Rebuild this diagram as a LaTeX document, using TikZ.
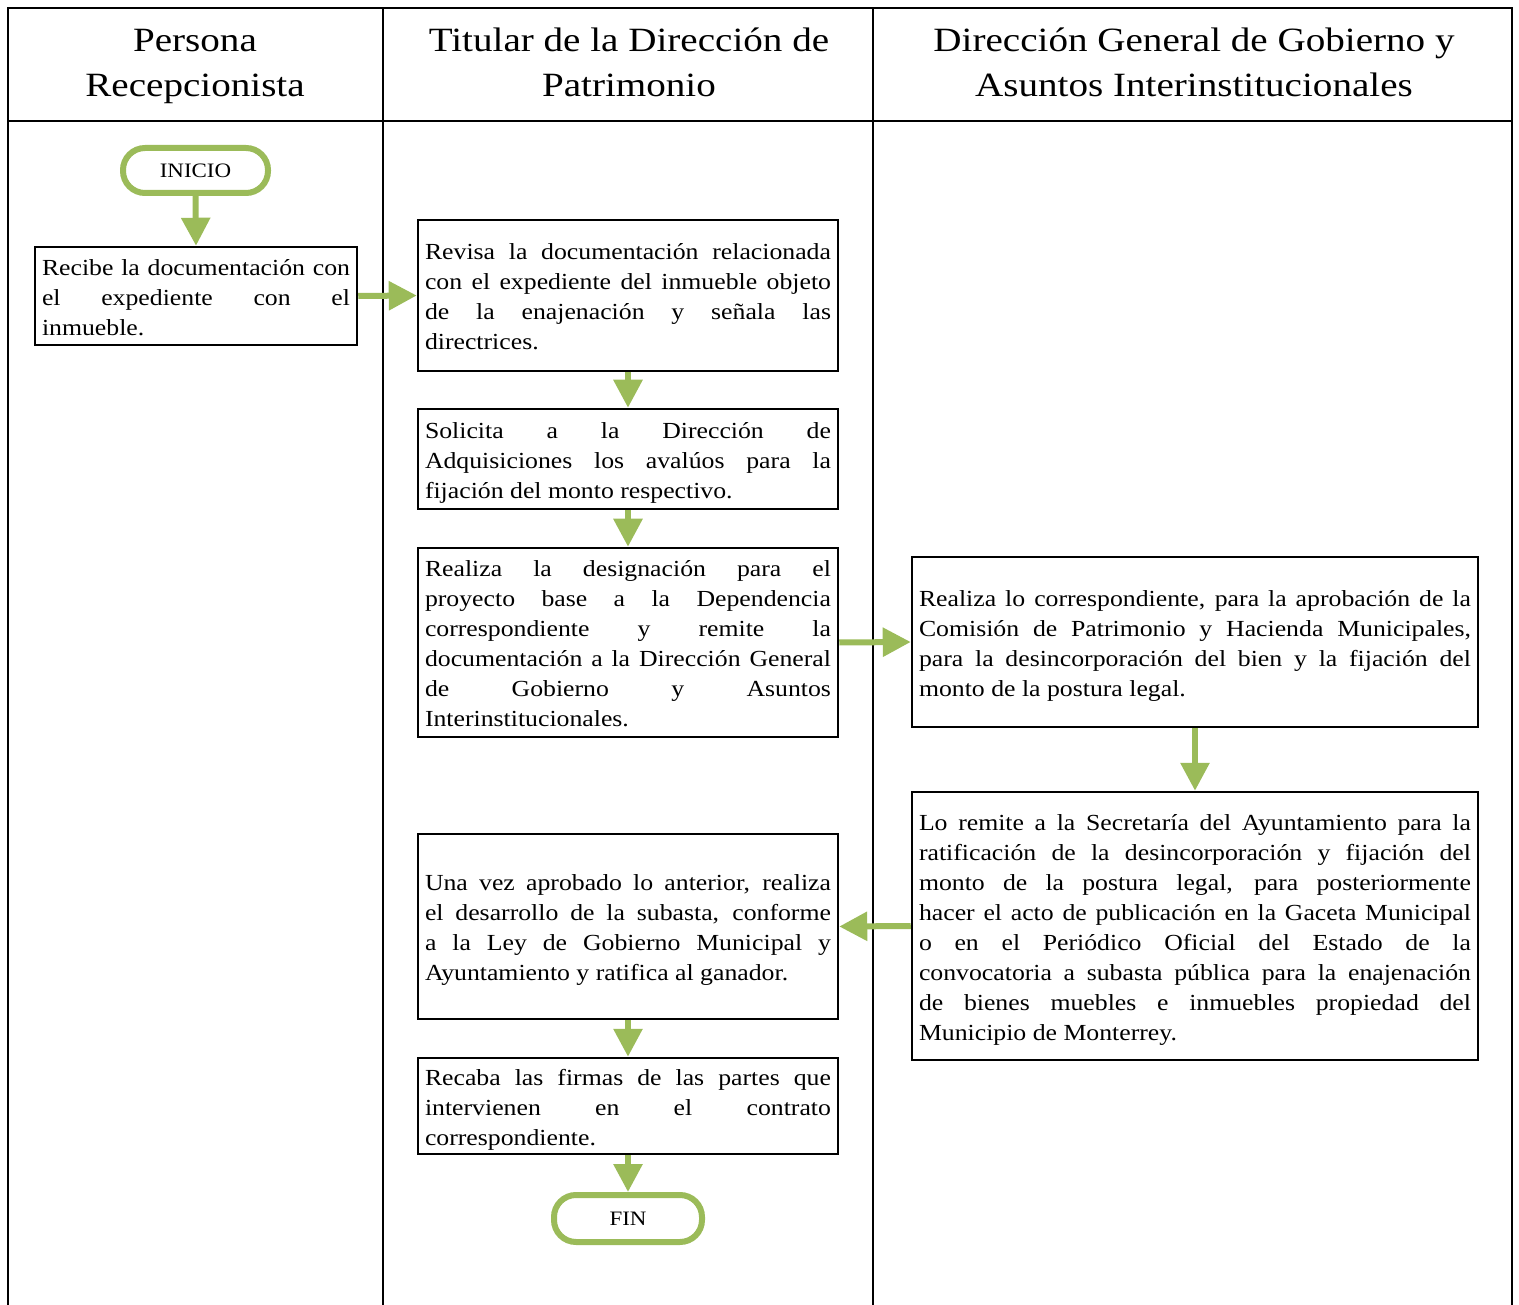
\documentclass[tikz,border=0pt]{standalone}
\usepackage{fontspec}
\setmainfont[FakeStretch=1.12]{Liberation Serif}
\newfontfamily\hfont[FakeStretch=1.15]{Liberation Serif}
\usetikzlibrary{arrows.meta}
\definecolor{olive}{HTML}{9BBB59}
\newcommand{\jl}[2][406pt]{\makebox[#1][s]{#2}\\}
\newcommand{\ft}{\rule{0pt}{26.6pt}}
\newcommand{\lastl}[1]{#1\rule[-8pt]{0pt}{8pt}}
\tikzset{
  stepbox/.style={draw=black, line width=2.5pt, inner xsep=7pt, inner ysep=0pt,
    font=\fontsize{23}{30}\selectfont, align=justify},
  term/.style={draw=olive, line width=6pt, rounded corners=22pt, inner sep=0pt,
    font=\fontsize{20.5}{24}\selectfont},
  flow/.style={draw=olive, line width=6pt, -{Triangle[length=28pt,width=28pt]}, olive},
  head/.style={align=center, font=\hfont\fontsize{34}{45}\selectfont, inner sep=0pt, anchor=north},
  frame/.style={line width=2pt, draw=black}
}
\begin{document}
\begin{tikzpicture}[x=1pt,y=-1pt]
\useasboundingbox (0,0) rectangle (1519,1305);
% lanes
\draw[frame] (8,1310) -- (8,8) -- (1512,8) -- (1512,1310);
\draw[frame] (8,121) -- (1512,121);
\draw[frame] (383,8) -- (383,1310);
\draw[frame] (873,8) -- (873,1310);
\node[head] (h1) at (195,15.5) {\rule{0pt}{36pt}Persona\\Recepcionista};
\node[head] (h2) at (629,15.5) {\rule{0pt}{36pt}Titular de la Dirección de\\Patrimonio};
\node[head] (h3) at (1194,15.5) {\rule{0pt}{36pt}Dirección General de Gobierno y\\Asuntos Interinstitucionales};
% terminals
\node[term, minimum width=145pt, minimum height=45pt] (ini) at (195.5,170.5) {INICIO};
\node[term, minimum width=148pt, minimum height=47pt] (fin) at (628,1218.5) {FIN};
% boxes
\node[stepbox, minimum width=322pt, minimum height=98pt, text width=308pt] (b1) at (196,296)
 {\ft\jl[308pt]{Recibe la documentación con}\jl[308pt]{el expediente con el}\lastl{inmueble.}};
\node[stepbox, minimum width=420pt, minimum height=151pt, text width=406pt] (b2) at (628,295.5)
 {\ft\jl{Revisa la documentación relacionada}\jl{con el expediente del inmueble objeto}\jl{de la enajenación y señala las}\lastl{directrices.}};
\node[stepbox, minimum width=420pt, minimum height=100pt, text width=406pt] (b3) at (628,459)
 {\ft\jl{Solicita a la Dirección de}\jl{Adquisiciones los avalúos para la}\lastl{fijación del monto respectivo.}};
\node[stepbox, minimum width=420pt, minimum height=189pt, text width=406pt] (b4) at (628,642.5)
 {\ft\jl{Realiza la designación para el}\jl{proyecto base a la Dependencia}\jl{correspondiente y remite la}\jl{documentación a la Dirección General}\jl{de Gobierno y Asuntos}\lastl{Interinstitucionales.}};
\node[stepbox, minimum width=566pt, minimum height=170pt, text width=552pt] (b5) at (1195,642)
 {\ft\jl[552pt]{Realiza lo correspondiente, para la aprobación de la}\jl[552pt]{Comisión de Patrimonio y Hacienda Municipales,}\jl[552pt]{para la desincorporación del bien y la fijación del}\lastl{monto de la postura legal.}};
\node[stepbox, minimum width=566pt, minimum height=268pt, text width=552pt] (b6) at (1195,926)
 {\ft\jl[552pt]{Lo remite a la Secretaría del Ayuntamiento para la}\jl[552pt]{ratificación de la desincorporación y fijación del}\jl[552pt]{monto de la postura legal, para posteriormente}\jl[552pt]{hacer el acto de publicación en la Gaceta Municipal}\jl[552pt]{o en el Periódico Oficial del Estado de la}\jl[552pt]{convocatoria a subasta pública para la enajenación}\jl[552pt]{de bienes muebles e inmuebles propiedad del}\lastl{Municipio de Monterrey.}};
\node[stepbox, minimum width=420pt, minimum height=185pt, text width=406pt] (b7) at (628,926.5)
 {\ft\jl{Una vez aprobado lo anterior, realiza}\jl{el desarrollo de la subasta, conforme}\jl{a la Ley de Gobierno Municipal y}\lastl{Ayuntamiento y ratifica al ganador.}};
\node[stepbox, minimum width=420pt, minimum height=96pt, text width=406pt] (b8) at (628,1106)
 {\ft\jl{Recaba las firmas de las partes que}\jl{intervienen en el contrato}\lastl{correspondiente.}};
% connectors
\draw[flow] (ini.south) -- (b1.north);
\draw[flow] (b1.east) -- (b2.west);
\draw[flow] (b2.south) -- (b3.north);
\draw[flow] (b3.south) -- (b4.north);
\draw[flow] (b4.east) -- (b5.west);
\draw[flow] (b5.south) -- (b6.north);
\draw[flow] (b6.west) -- (b7.east);
\draw[flow] (b7.south) -- (b8.north);
\draw[flow] (b8.south) -- (fin.north);
\end{tikzpicture}
\end{document}
